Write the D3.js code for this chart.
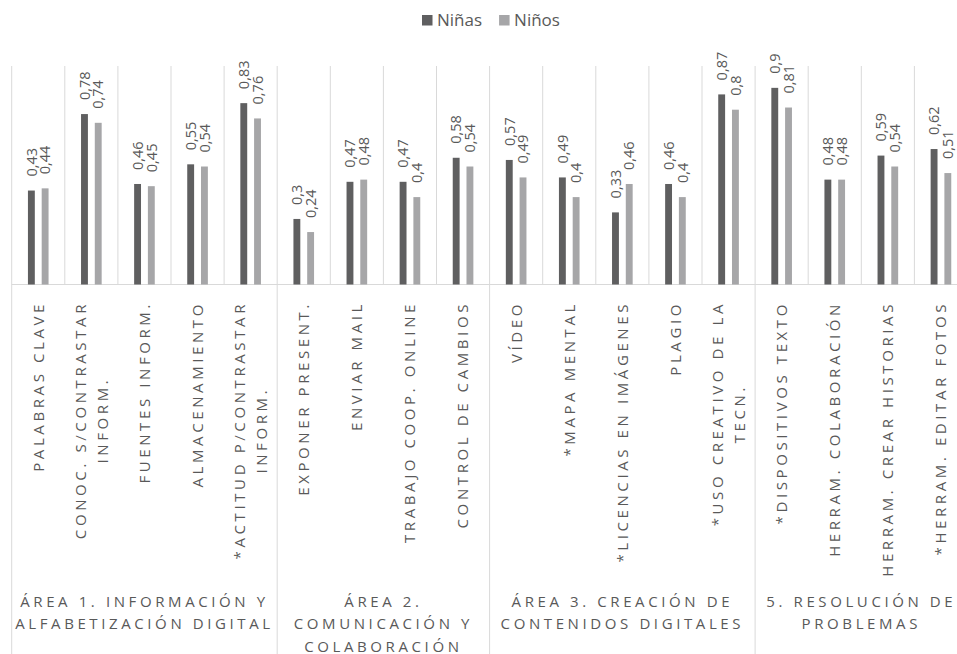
<!DOCTYPE html>
<html>
<head>
<meta charset="utf-8">
<script src="https://cdn.jsdelivr.net/npm/d3@7"></script>
<style>
  body { margin: 0; background: #fff; }
  svg { display: block; font-family: "Open Sans", sans-serif; }
</style>
</head>
<body>
<div id="chart"></div>
<script>
let categories = [
  "PALABRAS CLAVE",
  "CONOC. S/CONTRASTAR\nINFORM.",
  "FUENTES INFORM.",
  "ALMACENAMIENTO",
  "*ACTITUD P/CONTRASTAR\nINFORM.",
  "EXPONER PRESENT.",
  "ENVIAR MAIL",
  "TRABAJO COOP. ONLINE",
  "CONTROL DE CAMBIOS",
  "VÍDEO",
  "*MAPA MENTAL",
  "*LICENCIAS EN IMÁGENES",
  "PLAGIO",
  "*USO CREATIVO DE LA\nTECN.",
  "*DISPOSITIVOS TEXTO",
  "HERRAM. COLABORACIÓN",
  "HERRAM. CREAR HISTORIAS",
  "*HERRAM. EDITAR FOTOS"
];

let groups = [
  ["ÁREA 1. INFORMACIÓN Y", "ALFABETIZACIÓN DIGITAL"],
  ["ÁREA 2.", "COMUNICACIÓN Y", "COLABORACIÓN"],
  ["ÁREA 3. CREACIÓN DE", "CONTENIDOS DIGITALES"],
  ["5. RESOLUCIÓN DE", "PROBLEMAS"]
];
let groupSizes = [5, 4, 5, 4];

let series = ["Niñas", "Niños"];
let ninas = [0.43, 0.78, 0.46, 0.55, 0.83, 0.3, 0.47, 0.47, 0.58, 0.57, 0.49, 0.33, 0.46, 0.87, 0.9, 0.48, 0.59, 0.62];
let ninos = [0.44, 0.74, 0.45, 0.54, 0.76, 0.24, 0.48, 0.4, 0.54, 0.49, 0.4, 0.46, 0.4, 0.8, 0.81, 0.48, 0.54, 0.51];

let colors = ["#5f5f60", "#a6a6a8"];


function barChart(width=957, height=654) {
  let margin = {top: 66, left: 11.7};
  let step = 53.1;
  let baseY = 284.5;
  let textColor = "#595959";
  let gridColor = "#d9d9d9";

  let svg = d3.select("#chart").append("svg")
              .attr("width", width)
              .attr("height", height);

  let x = d3.scaleBand()
            .domain(categories)
            .range([margin.left, margin.left + step * categories.length]);

  let xSub = d3.scaleBand()
               .domain(series)
               .range([x.bandwidth() / 2 - 13.75, x.bandwidth() / 2 + 13.75])
               .paddingInner(0.5)
               .paddingOuter(0.25);

  let y = d3.scaleLinear()
            .domain([0, 1])
            .range([baseY, margin.top]);

  let rows = categories.map(function(c, i) {
    return {cat: c, values: [{s: series[0], v: ninas[i]}, {s: series[1], v: ninos[i]}]};
  });

  /* boundaries: category lines stop at the axis, group lines run to the bottom */
  let groupStarts = [0];
  groupSizes.forEach(function(n) { groupStarts.push(groupStarts[groupStarts.length - 1] + n) });
  let bounds = d3.range(categories.length + 1);

  svg.append("g").selectAll("line")
     .data(bounds)
     .enter()
     .append("line")
     .attr("x1", function(k) { return x.range()[0] + k * x.step() })
     .attr("x2", function(k) { return x.range()[0] + k * x.step() })
     .attr("y1", y(1))
     .attr("y2", function(k) { return groupStarts.indexOf(k) >= 0 ? height + 5 : y(0) })
     .attr("stroke", gridColor)
     .attr("stroke-width", 1);

  svg.append("line")
     .attr("x1", x.range()[0])
     .attr("x2", x.range()[1])
     .attr("y1", y(0))
     .attr("y2", y(0))
     .attr("stroke", gridColor)
     .attr("stroke-width", 1.2);

  /* bars */
  let cat = svg.append("g").selectAll("g.cat")
               .data(rows)
               .enter()
               .append("g")
               .attr("class", "cat")
               .attr("transform", function(d) { return "translate(" + x(d.cat) + ",0)" });

  cat.selectAll("rect")
     .data(function(d) { return d.values })
     .enter()
     .append("rect")
     .attr("x", function(d) { return xSub(d.s) })
     .attr("width", xSub.bandwidth())
     .attr("y", function(d) { return y(d.v) })
     .attr("height", function(d) { return y(0) - y(d.v) })
     .attr("fill", function(d, i) { return colors[i] });

  /* value labels, rotated */
  cat.selectAll("text.val")
     .data(function(d) { return d.values })
     .enter()
     .append("text")
     .attr("class", "val")
     .attr("transform", function(d) {
       return "translate(" + (xSub(d.s) + xSub.bandwidth() / 2) + "," + (y(d.v) - 14) + ") rotate(-90)";
     })
     .attr("dy", "0.36em")
     .attr("text-anchor", "start")
     .attr("font-size", "14.5px")
     .attr("fill", textColor)
     .text(function(d) { return String(d.v).replace(".", ",") });

  /* category labels, rotated, lines centred in their block */
  let lineGap = 22.5;
  let labelTop = 301;
  let catLabel = svg.append("g").selectAll("g.catLabel")
                    .data(categories)
                    .enter()
                    .append("g")
                    .attr("class", "catLabel")
                    .attr("transform", function(d) {
                      return "translate(" + (x(d) + x.bandwidth() / 2) + "," + labelTop + ") rotate(-90)";
                    });

  catLabel.each(function(d) {
    let g = d3.select(this);
    let lines = d.split("\n");
    let texts = lines.map(function(l, i) {
      return g.append("text")
              .attr("y", (i - (lines.length - 1) / 2) * lineGap)
              .attr("dy", "0.36em")
              .attr("text-anchor", "middle")
              .attr("font-size", "15px")
              .attr("letter-spacing", "3.6px")
              .attr("fill", textColor)
              .text(l);
    });
    let maxLen = d3.max(texts, function(t) { return t.node().getComputedTextLength() });
    texts.forEach(function(t) { t.attr("x", -maxLen / 2) });
  });

  /* group labels */
  let groupLabel = svg.append("g").selectAll("text.group")
                      .data(groups)
                      .enter()
                      .append("text")
                      .attr("class", "group")
                      .attr("text-anchor", "middle")
                      .attr("font-size", "15px")
                      .attr("letter-spacing", "3.6px")
                      .attr("fill", textColor)
                      .attr("transform", function(d, i) {
                        let x0 = x.range()[0] + groupStarts[i] * x.step();
                        let x1 = x.range()[0] + groupStarts[i + 1] * x.step();
                        return "translate(" + ((x0 + x1) / 2) + ",606.5)";
                      });

  groupLabel.selectAll("tspan")
            .data(function(d) { return d })
            .enter()
            .append("tspan")
            .attr("x", 0)
            .attr("y", function(d, i) { return i * 22.5 })
            .text(function(d) { return d });

  /* legend */
  let legend = svg.append("g").attr("class", "legend");
  let lx = 422;
  series.forEach(function(s, i) {
    legend.append("rect")
          .attr("x", lx)
          .attr("y", 15)
          .attr("width", 10.5)
          .attr("height", 10.5)
          .attr("fill", colors[i]);
    let t = legend.append("text")
                  .attr("x", lx + 15)
                  .attr("y", 26)
                  .attr("font-size", "17px")
                  .attr("fill", textColor)
                  .text(s);
    lx += 15 + t.node().getComputedTextLength() + 17;
  });
}


barChart();
</script>
</body>
</html>
